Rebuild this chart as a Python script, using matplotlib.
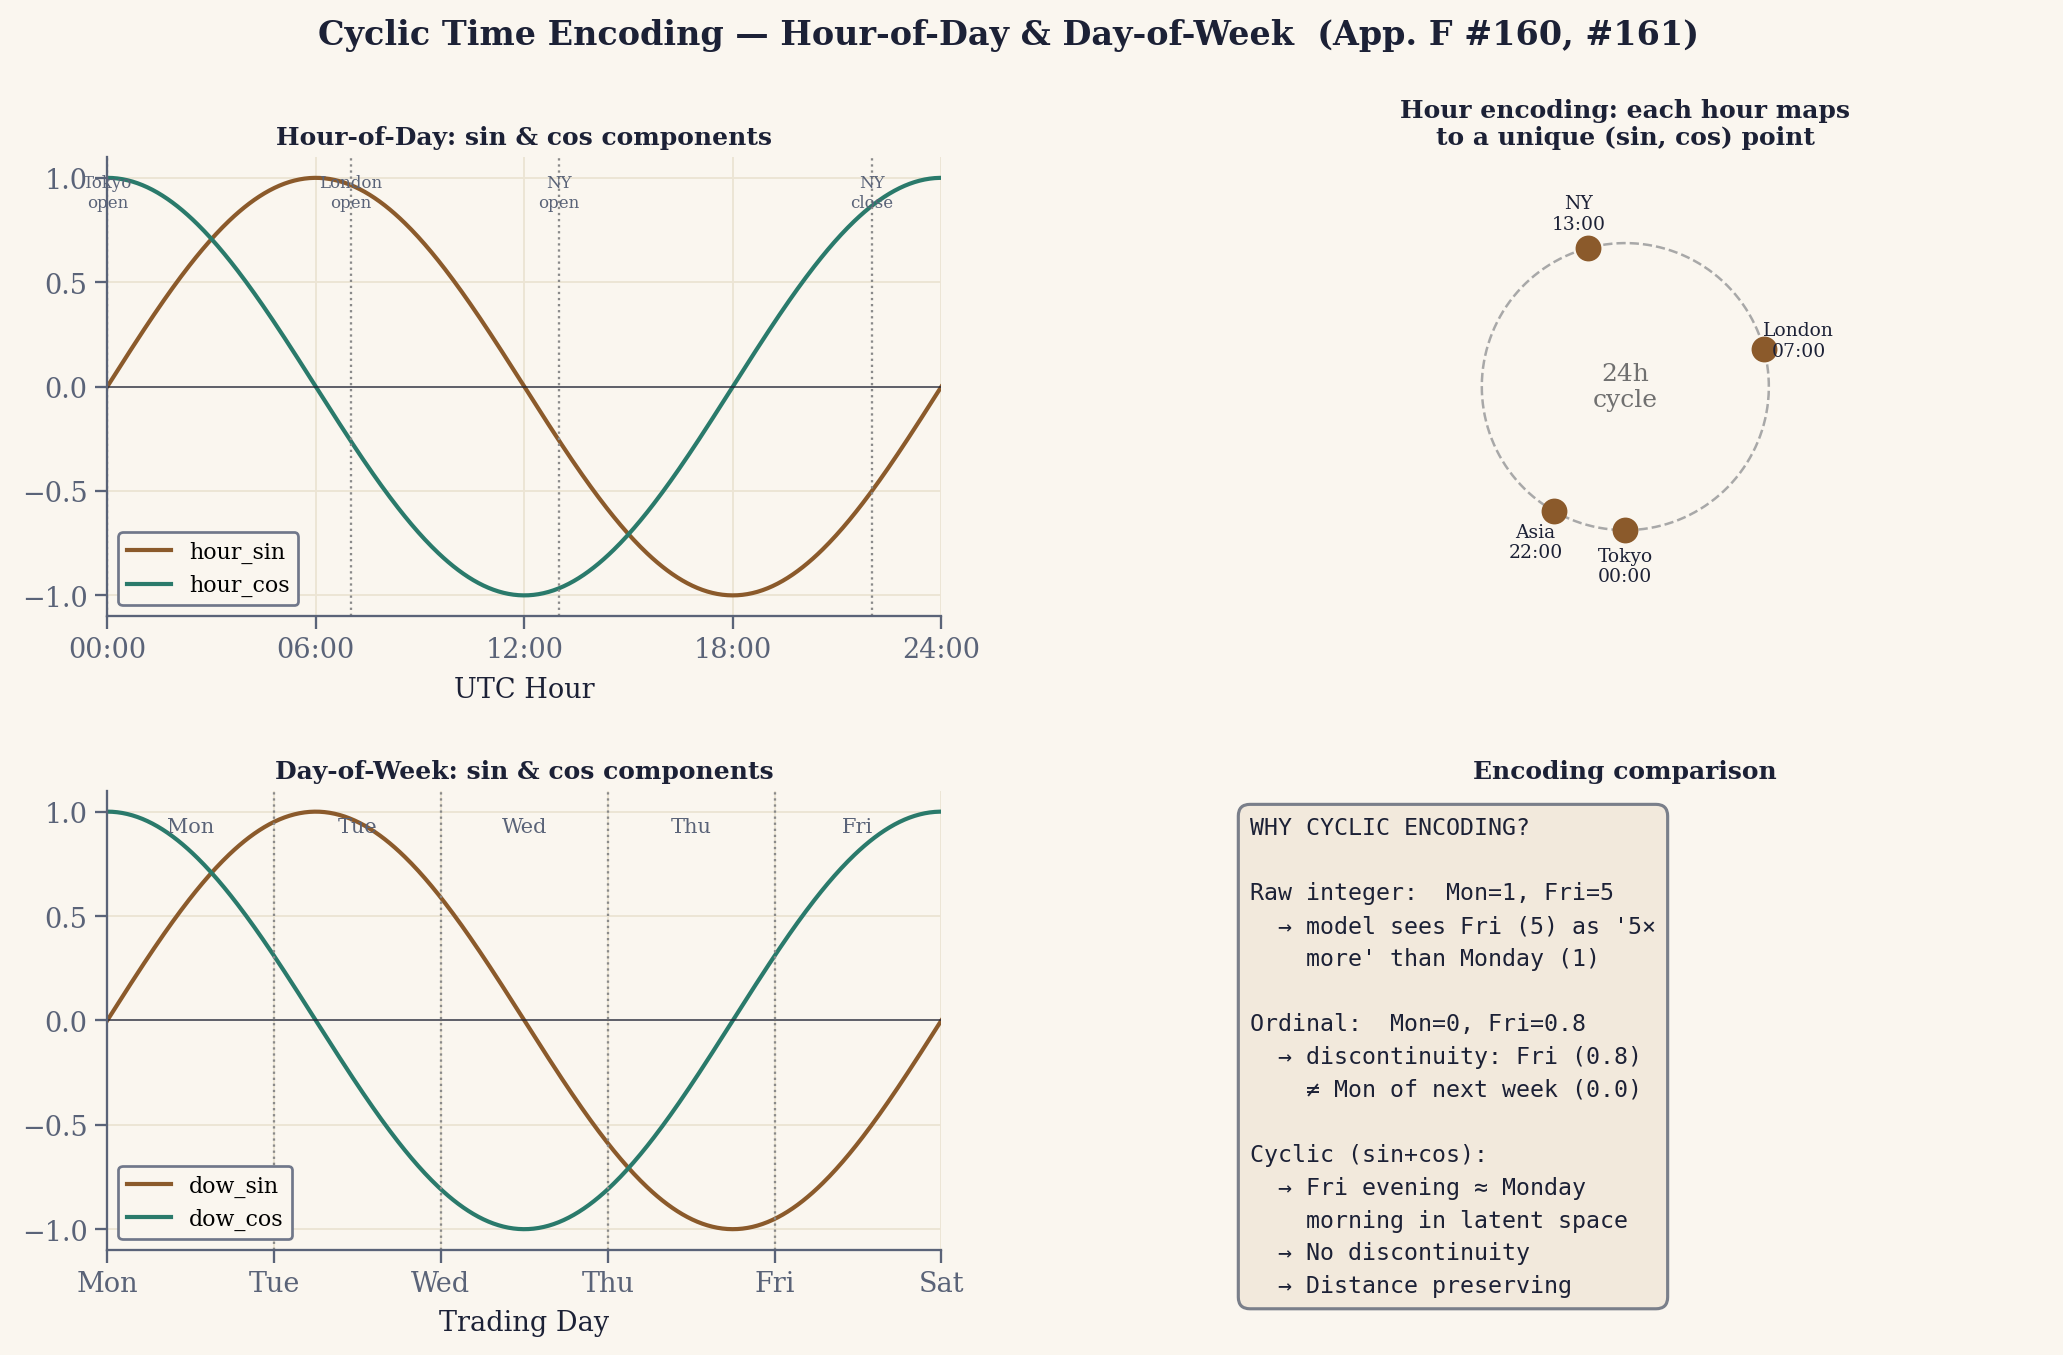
import numpy as np
import matplotlib
matplotlib.use("Agg")
import matplotlib.pyplot as plt

# session events (UTC hour) marked on the hour plot
event_hours = [0, 7, 13, 22]
event_labels = ["Tokyo\nopen", "London\nopen", "NY\nopen", "NY\nclose"]

# points on the circle
circle_names = ["Tokyo", "London", "NY", "Asia"]
circle_hours = [0, 7, 13, 22]

hour_ticks = [0, 6, 12, 18, 24]
hour_ticklabels = ["00:00", "06:00", "12:00", "18:00", "24:00"]
y_ticks = [-1.0, -0.5, 0.0, 0.5, 1.0]

days = ["Mon", "Tue", "Wed", "Thu", "Fri", "Sat"]
n_days = 5

BG = "#faf6ef"
INK = "#1c2136"
SLATE = "#5a6378"
BROWN = "#8b5a2b"
TEAL = "#2a7a6b"
GRID = "#ece4d4"

plt.rcParams["font.family"] = "DejaVu Serif"
plt.rcParams["axes.facecolor"] = BG
plt.rcParams["figure.facecolor"] = BG

fig = plt.figure(figsize=(2063 / 150, 1356 / 150), dpi=150)
gs = fig.add_gridspec(2, 2, left=0.052, right=0.99, top=0.8835, bottom=0.0774,
                      hspace=0.38, wspace=0.32)
ax1 = fig.add_subplot(gs[0, 0])
ax2 = fig.add_subplot(gs[0, 1])
ax3 = fig.add_subplot(gs[1, 0])
ax4 = fig.add_subplot(gs[1, 1])


def style(ax):
    for s in ["top", "right"]:
        ax.spines[s].set_visible(False)
    for s in ["left", "bottom"]:
        ax.spines[s].set_color(SLATE)
        ax.spines[s].set_linewidth(1.1)
    ax.tick_params(colors=SLATE, labelsize=13, length=6, width=1.1)
    ax.grid(True, color=GRID, linewidth=0.9)
    ax.set_axisbelow(True)


# hour of day
h = np.linspace(0, 24, 500)
style(ax1)
ax1.plot(h, np.sin(2 * np.pi * h / 24), color=BROWN, lw=2, label="hour_sin")
ax1.plot(h, np.cos(2 * np.pi * h / 24), color=TEAL, lw=2, label="hour_cos")
ax1.axhline(0, color=INK, lw=0.8, alpha=0.8)
for eh, el in zip(event_hours, event_labels):
    ax1.axvline(eh, color="#8a8a8a", ls=":", lw=1.1)
    ax1.text(eh, 0.93, el, ha="center", va="center", fontsize=8, color=SLATE)
ax1.set_xlim(0, 24)
ax1.set_ylim(-1.1, 1.1)
ax1.set_xticks(hour_ticks)
ax1.set_xticklabels(hour_ticklabels)
ax1.set_yticks(y_ticks)
ax1.set_xlabel("UTC Hour", fontsize=13, color=INK, labelpad=6)
ax1.set_title("Hour-of-Day: sin & cos components", fontsize=12, fontweight="bold", color=INK)
leg = ax1.legend(loc="lower left", fontsize=10.6, facecolor=BG, edgecolor="#70778a",
                 framealpha=1, fancybox=True)
leg.get_frame().set_linewidth(1.3)

# circle
ax2.set_aspect("equal")
ax2.axis("off")
t = np.linspace(0, 2 * np.pi, 300)
ax2.plot(np.sin(t), np.cos(t), color="#a8a8a8", ls="--", lw=1.2)
for name, ch in zip(circle_names, circle_hours):
    xs = np.sin(2 * np.pi * ch / 24)
    ys = np.cos(2 * np.pi * ch / 24)
    ax2.scatter(xs, ys, s=130, color=BROWN, zorder=3)
    ax2.text(1.25 * xs, 1.25 * ys, f"{name}\n{ch:02d}:00", ha="center", va="center",
             fontsize=9, color=INK)
ax2.text(0, 0, "24h\ncycle", ha="center", va="center", fontsize=12, color="#707070")
ax2.set_xlim(-1.6, 1.6)
ax2.set_ylim(1.6, -1.6)
ax2.set_title("Hour encoding: each hour maps\nto a unique (sin, cos) point",
              fontsize=12, fontweight="bold", color=INK)

# day of week
d = np.linspace(0, n_days, 500)
style(ax3)
ax3.plot(d, np.sin(2 * np.pi * d / n_days), color=BROWN, lw=2, label="dow_sin")
ax3.plot(d, np.cos(2 * np.pi * d / n_days), color=TEAL, lw=2, label="dow_cos")
ax3.axhline(0, color=INK, lw=0.8, alpha=0.8)
for i in range(1, n_days):
    ax3.axvline(i, color="#8a8a8a", ls=":", lw=1.1)
for i in range(n_days):
    ax3.text(i + 0.5, 0.93, days[i], ha="center", va="center", fontsize=10, color=SLATE)
ax3.set_xlim(0, n_days)
ax3.set_ylim(-1.1, 1.1)
ax3.set_xticks(range(n_days + 1))
ax3.set_xticklabels(days)
ax3.set_yticks(y_ticks)
ax3.set_xlabel("Trading Day", fontsize=13, color=INK, labelpad=6)
ax3.set_title("Day-of-Week: sin & cos components", fontsize=12, fontweight="bold", color=INK)
leg = ax3.legend(loc="lower left", fontsize=10.6, facecolor=BG, edgecolor="#70778a",
                 framealpha=1, fancybox=True)
leg.get_frame().set_linewidth(1.3)

# text box
ax4.axis("off")
ax4.set_title("Encoding comparison", fontsize=12, fontweight="bold", color=INK)
msg = ("WHY CYCLIC ENCODING?\n\n"
       "Raw integer:  Mon=1, Fri=5\n"
       "  \u2192 model sees Fri (5) as '5\u00d7\n"
       "    more' than Monday (1)\n\n"
       "Ordinal:  Mon=0, Fri=0.8\n"
       "  \u2192 discontinuity: Fri (0.8)\n"
       "    \u2260 Mon of next week (0.0)\n\n"
       "Cyclic (sin+cos):\n"
       "  \u2192 Fri evening \u2248 Monday\n"
       "    morning in latent space\n"
       "  \u2192 No discontinuity\n"
       "  \u2192 Distance preserving")
ax4.text(0.05, 0.945, msg, transform=ax4.transAxes, ha="left", va="top",
         family="DejaVu Sans Mono", fontsize=11.2, color=INK, linespacing=1.54,
         bbox=dict(boxstyle="round,pad=0.5", facecolor="#f2e9dc", edgecolor="#7a7f8a", lw=1.5))

fig.suptitle("Cyclic Time Encoding \u2014 Hour-of-Day & Day-of-Week  (App. F #160, #161)",
             fontsize=16, fontweight="bold", color=INK, x=0.489, y=0.986)

fig.savefig("out.png", dpi=150, facecolor=BG)
